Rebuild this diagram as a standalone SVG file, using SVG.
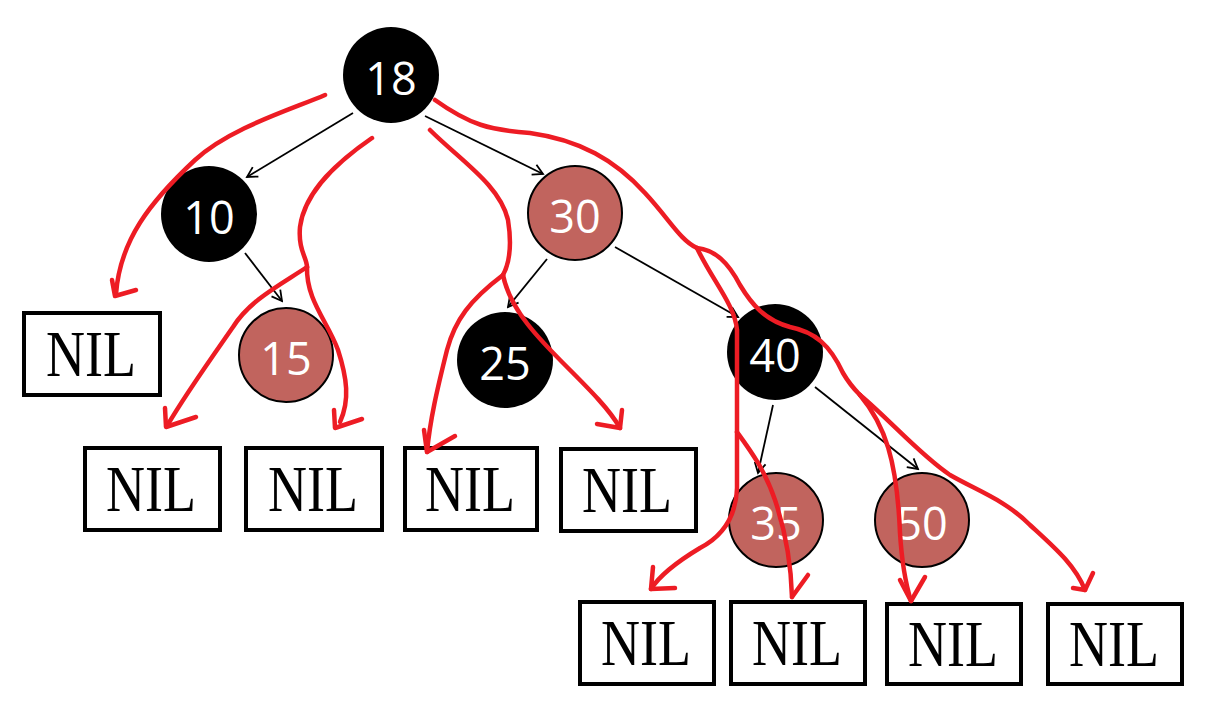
<svg xmlns="http://www.w3.org/2000/svg" width="1230" height="708" viewBox="0 0 1230 708">
<style>
.blk{fill:#000}
.red{fill:#c1645e;stroke:#000;stroke-width:2}
.num{font-family:"Open Sans","Liberation Sans",sans-serif;font-size:45px;fill:#fff;text-anchor:middle}
.box{fill:#fff;stroke:#000;stroke-width:4}
.nil{font-family:"Liberation Serif","Times New Roman",serif;font-size:65px;fill:#000;text-anchor:middle}
.edge{stroke:#000;stroke-width:1.8;fill:none;marker-end:url(#arr)}
.pen{stroke:#ed1c24;stroke-width:4.5;fill:none;stroke-linecap:round;stroke-linejoin:round}
</style>
<defs>
<marker id="arr" markerUnits="userSpaceOnUse" markerWidth="14" markerHeight="14" viewBox="0 0 14 14" refX="12" refY="7" orient="auto">
<path d="M2,1.5 L12,7 L2,12.5" fill="none" stroke="#000" stroke-width="1.8"/>
</marker>
</defs>
<rect width="1230" height="708" fill="#fff"/>
<g id="connectors">
<path class="edge" d="M353,113 L247,177"/>
<path class="edge" d="M425,116 L543,174"/>
<path class="edge" d="M245,253 L282,301"/>
<path class="edge" d="M547,259 L508,307"/>
<path class="edge" d="M615,247 L738,317"/>
<path class="edge" d="M773,405 L758,473"/>
<path class="edge" d="M815,387 L918,469"/>
</g>
<g id="n18"><circle class="blk" cx="391" cy="75" r="48"/><text class="num" x="391" y="95">18</text></g>
<g id="n10"><circle class="blk" cx="209" cy="214" r="48"/><text class="num" x="209" y="234">10</text></g>
<g id="n30"><circle class="red" cx="575" cy="213" r="47"/><text class="num" x="575" y="233">30</text></g>
<g id="n15"><circle class="red" cx="286" cy="355" r="47"/><text class="num" x="286" y="375">15</text></g>
<g id="n25"><circle class="blk" cx="505" cy="360" r="48"/><text class="num" x="505" y="380">25</text></g>
<g id="n40"><circle class="blk" cx="775" cy="352" r="48"/><text class="num" x="775" y="372">40</text></g>
<g id="n35"><circle class="red" cx="776" cy="520" r="47"/><text class="num" x="776" y="540">35</text></g>
<g id="n50"><circle class="red" cx="922" cy="520" r="47"/><text class="num" x="922" y="540">50</text></g>
<g id="nil1"><rect class="box" x="24" y="313" width="136" height="82"/><text class="nil" x="91" y="376" textLength="90" lengthAdjust="spacingAndGlyphs">NIL</text></g>
<g id="nil2"><rect class="box" x="85" y="448" width="135" height="82"/><text class="nil" x="151" y="511" textLength="90" lengthAdjust="spacingAndGlyphs">NIL</text></g>
<g id="nil3"><rect class="box" x="246" y="448" width="136" height="82"/><text class="nil" x="313" y="511" textLength="90" lengthAdjust="spacingAndGlyphs">NIL</text></g>
<g id="nil4"><rect class="box" x="405" y="448" width="132" height="82"/><text class="nil" x="470" y="511" textLength="90" lengthAdjust="spacingAndGlyphs">NIL</text></g>
<g id="nil5"><rect class="box" x="561" y="449" width="135" height="82"/><text class="nil" x="627" y="512" textLength="90" lengthAdjust="spacingAndGlyphs">NIL</text></g>
<g id="nil6"><rect class="box" x="580" y="602" width="134" height="82"/><text class="nil" x="646" y="665" textLength="90" lengthAdjust="spacingAndGlyphs">NIL</text></g>
<g id="nil7"><rect class="box" x="731" y="602" width="134" height="82"/><text class="nil" x="797" y="665" textLength="90" lengthAdjust="spacingAndGlyphs">NIL</text></g>
<g id="nil8"><rect class="box" x="887" y="604" width="134" height="80"/><text class="nil" x="953" y="666" textLength="90" lengthAdjust="spacingAndGlyphs">NIL</text></g>
<g id="nil9"><rect class="box" x="1048" y="604" width="134" height="80"/><text class="nil" x="1114" y="666" textLength="90" lengthAdjust="spacingAndGlyphs">NIL</text></g>
<g id="paths">
<path class="pen" d="M325,95 C290,110 230,128 195,160 C150,202 120,240 116,294"/>
<path class="pen" d="M112,280 L115,296 L136,290"/>
<path class="pen" d="M372,138 C340,160 305,190 300,227 C298,250 307,258 307,267"/>
<path class="pen" d="M307,267 C280,285 250,300 233,327 C210,360 185,395 167,426"/>
<path class="pen" d="M165,408 L166,427 L196,417"/>
<path class="pen" d="M307,267 C306,300 328,322 338,350 C347,378 350,400 340,422"/>
<path class="pen" d="M334,410 L335,428 L362,419"/>
<path class="pen" d="M430,130 C460,160 500,185 508,220 C512,245 510,262 503,275"/>
<path class="pen" d="M503,275 C470,300 455,320 447,350 C437,390 430,420 427,452"/>
<path class="pen" d="M424,430 L427,452 L455,436"/>
<path class="pen" d="M503,275 C510,310 540,340 567,367 C590,390 610,410 620,428"/>
<path class="pen" d="M597,424 L620,428 L622,410"/>
<path class="pen" d="M435,100 C470,125 490,130 530,133 C580,140 615,160 645,193 C670,220 680,240 697,248"/>
<path class="pen" d="M697,248 C712,280 735,305 737,330 L737,488 C736,515 725,535 700,548 C680,560 660,575 651,589"/>
<path class="pen" d="M653,567 L651,589 L675,588"/>
<path class="pen" d="M737,432 C750,450 765,470 775,500 C785,530 791,560 792,597"/>
<path class="pen" d="M808,575 L792,597"/>
<path class="pen" d="M697,248 C715,250 728,262 740,285 C752,305 765,320 790,327 C815,332 830,345 843,373 C850,385 855,390 860,395"/>
<path class="pen" d="M860,395 C885,425 897,460 900,533 C902,565 906,585 911,601"/>
<path class="pen" d="M900,580 L911,601 L925,577"/>
<path class="pen" d="M860,395 C890,420 920,455 950,475 C980,492 1005,500 1030,525 C1055,548 1075,565 1085,590"/>
<path class="pen" d="M1073,588 L1085,590 L1093,573"/>
</g>
</svg>
